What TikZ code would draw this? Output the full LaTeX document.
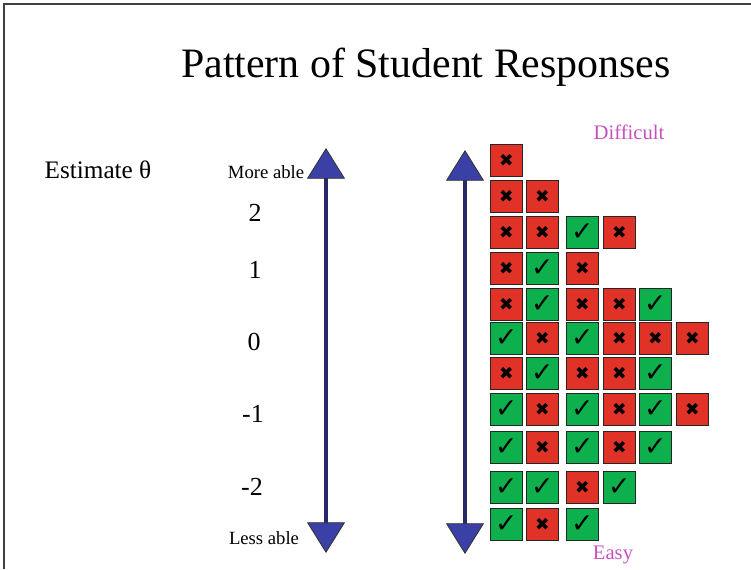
\documentclass[tikz,border=0pt]{standalone}
\usepackage{fontspec}
\setmainfont{Liberation Serif}
\newfontfamily\symfont{DejaVu Sans}
\usetikzlibrary{arrows.meta}

\definecolor{boxred}{RGB}{224,50,38}
\definecolor{boxgreen}{RGB}{14,176,78}
\definecolor{tipblue}{RGB}{58,64,165}
\definecolor{shaftblue}{RGB}{38,40,105}
\definecolor{labelpink}{RGB}{200,80,190}

\newcommand{\failsym}{{\symfont\fontsize{13}{13}\selectfont ✖}}
\newcommand{\passsym}{{\symfont\fontsize{20}{20}\selectfont ✓}}

\begin{document}
\begin{tikzpicture}[x=0.75pt,y=-0.75pt]

\tikzset{cell/.style = {draw=black!85, line width=0.6pt, minimum size=24pt, inner sep=0pt, anchor=north west}}
\tikzset{fail/.style = {cell, fill=boxred}}
\tikzset{pass/.style = {cell, fill=boxgreen}}
\tikzset{axisline/.style = {shaftblue, line width=2.8pt,
  {Triangle[width=28.5pt, length=23pt, color=black!80, fill=tipblue, line width=0.6pt]}-{Triangle[width=28.5pt, length=23pt, color=black!80, fill=tipblue, line width=0.6pt]}}}
\tikzset{ability/.style = {font=\fontsize{14}{16}\selectfont, inner sep=0pt}}
\tikzset{theta/.style = {font=\fontsize{19.5}{22}\selectfont, inner sep=0pt}}
\tikzset{level/.style = {labelpink, font=\fontsize{15.5}{18}\selectfont, inner sep=0pt}}

\useasboundingbox (0,0) rectangle (751,569);
\draw[black!75, line width=1.2pt] (4,569) -- (4,4) -- (751,4);

% labels
\node[font=\fontsize{31.4}{36}\selectfont, inner sep=0pt] (title) at (426,67) {Pattern of Student Responses};
\node[font=\fontsize{18.9}{22}\selectfont, inner sep=0pt] (estimate) at (98,170) {Estimate θ};
\node[ability] (moreable) at (266,172) {More able};
\node[ability] (lessable) at (264,538) {Less able};
\node[theta] (th2) at (255,213) {2};
\node[theta] (th1) at (255,270) {1};
\node[theta] (th0) at (254,342) {0};
\node[theta] (thm1) at (253,414) {-1};
\node[theta] (thm2) at (252,487) {-2};
\node[level] (difficult) at (629,132) {Difficult};
\node[level] (easy) at (613,555) {Easy};

% axes
\coordinate (ltop) at (326,148);
\coordinate (lbot) at (326,553);
\coordinate (rtop) at (465,150);
\coordinate (rbot) at (465,554);
\draw[axisline] (lbot) -- (ltop);
\draw[axisline] (rbot) -- (rtop);

%responses
\foreach \r/\top/\marks in {1/144/{fail}, 2/180/{fail,fail}, 3/216/{fail,fail,pass,fail},
    4/252/{fail,pass,fail}, 5/288/{fail,pass,fail,fail,pass},
    6/322/{pass,fail,pass,fail,fail,fail}, 7/357/{fail,pass,fail,fail,pass},
    8/393/{pass,fail,pass,fail,pass,fail}, 9/431/{pass,fail,pass,fail,pass},
    10/471/{pass,pass,fail,pass}, 11/508/{pass,fail,pass}}
  \foreach \m [count=\c] in \marks {
    \pgfmathsetmacro\lft{{490,526,566,603,639,676}[\c-1]}
    \node[\m] (r\r c\c) at (\lft,\top) {\csname\m sym\endcsname};
  }

\end{tikzpicture}
\end{document}
